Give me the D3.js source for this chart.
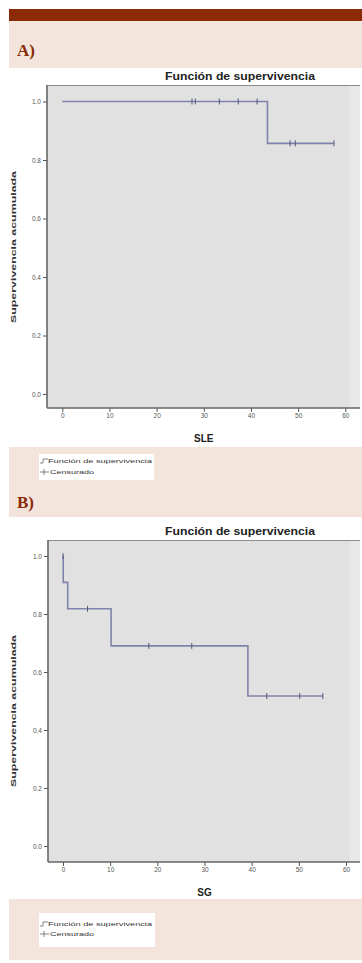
<!DOCTYPE html>
<html>
<head>
<meta charset="utf-8">
<script src="https://cdn.jsdelivr.net/npm/d3@7"></script>
<style>
  html, body { margin: 0; padding: 0; background: #fff; }
  svg { display: block; }
</style>
</head>
<body>
<svg id="fig" width="362" height="963"></svg>
<script>
// Kaplan–Meier step data (time in months, cumulative survival)
const sleStepTimes    = [0, 43.5, 57.6];
const sleStepSurvival = [1.0, 0.857, 0.857];
const sleCensorTimes    = [27.5, 28.2, 33.3, 37.3, 41.3, 48.3, 49.4, 57.6];
const sleCensorSurvival = [1.0, 1.0, 1.0, 1.0, 1.0, 0.857, 0.857, 0.857];

const sgStepTimes    = [0, 0.05, 1.0, 10.2, 39.2, 55.1];
const sgStepSurvival = [1.0, 0.909, 0.818, 0.69, 0.517, 0.517];
const sgCensorTimes    = [0, 5.2, 18.2, 27.3, 43.2, 50.2, 55.1];
const sgCensorSurvival = [1.0, 0.818, 0.69, 0.69, 0.517, 0.517, 0.517];

const xTicks = [0, 10, 20, 30, 40, 50, 60];
const yTicks = [0.0, 0.2, 0.4, 0.6, 0.8, 1.0];

const chartTitle = "Función de supervivencia";
const yLabel = "Supervivencia acumulada";
const legendItems = ["Función de supervivencia", "Censurado"];

const svg = d3.select("#fig");
const DARK_RED = "#8a2a06";
const PINK = "#f3e4dc";
const LINE = "#8084aa";
const MARK = "#55597a";
const SANS = "Liberation Sans, Arial, sans-serif";

// header strip
svg.append("rect").attr("x", 9).attr("y", 9).attr("width", 353).attr("height", 12).attr("fill", DARK_RED);

function band(y, h) {
  svg.append("rect").attr("x", 9).attr("y", y).attr("width", 353).attr("height", h).attr("fill", PINK);
}
function panelLabel(txt, y) {
  svg.append("text").attr("x", 17).attr("y", y).text(txt)
    .attr("font-family", "Liberation Serif, serif").attr("font-weight", "bold")
    .attr("font-size", 17).attr("fill", DARK_RED);
}
band(21, 47);
panelLabel("A)", 56);
band(447, 70);
panelLabel("B)", 508);
band(899, 61);

function legend(x, y, w, h, rows) {
  const g = svg.append("g").attr("transform", `translate(${x},${y})`);
  g.append("rect").attr("width", w).attr("height", h).attr("fill", "#fff");
  legendItems.forEach((t, i) => {
    const cy = rows[i];
    if (i === 0) {
      g.append("path").attr("d", `M1,${cy + 2} L4,${cy + 2} L4,${cy - 2} L9,${cy - 2}`)
        .attr("fill", "none").attr("stroke", "#555").attr("stroke-width", 0.7);
    } else {
      g.append("path").attr("d", `M1,${cy} L10,${cy} M5,${cy - 3} L5,${cy + 3}`)
        .attr("fill", "none").attr("stroke", "#555").attr("stroke-width", 0.7);
    }
    g.append("text").attr("x", i === 0 ? 9 : 11).attr("y", cy + 2).text(t)
      .attr("font-family", SANS).attr("font-size", 5.8).attr("fill", "#333")
      .attr("textLength", i === 0 ? 104 : 44).attr("lengthAdjust", "spacingAndGlyphs");
  });
}
legend(39, 454, 115, 26, [7, 18]);
legend(39, 913, 116, 34, [11, 21]);

function kmChart(opt) {
  const x = d3.scaleLinear().domain([0, 60]).range(opt.xr);
  const y = d3.scaleLinear().domain([0, 1]).range(opt.yr);
  const g = svg.append("g");
  const left = opt.left, right = 360, top = opt.top, bottom = opt.bottom;

  // plotting area
  g.append("rect").attr("x", left).attr("y", top).attr("width", right - left).attr("height", bottom - top)
    .attr("fill", "#e1e1e1");
  g.append("rect").attr("x", 350).attr("y", top).attr("width", right - 350).attr("height", bottom - top)
    .attr("fill", "#e8e8e8");
  g.append("line").attr("x1", left).attr("x2", right).attr("y1", top + 0.5).attr("y2", top + 0.5)
    .attr("stroke", "#8c8c8c").attr("stroke-width", 1.2);

  // axes
  const yAxis = d3.axisLeft(y).tickValues(yTicks).tickFormat(d3.format(".1f")).tickSize(4).tickPadding(2);
  const ya = g.append("g").attr("transform", `translate(${left},0)`).call(yAxis);
  ya.select(".domain").remove();
  ya.selectAll("line").attr("stroke", "#555");
  ya.selectAll("text").attr("font-family", SANS).attr("font-size", 6.5).attr("fill", "#555");

  const xAxis = d3.axisBottom(x).tickValues(xTicks).tickSize(-4).tickPadding(5);
  const xa = g.append("g").attr("transform", `translate(0,${bottom})`).call(xAxis);
  xa.select(".domain").remove();
  xa.selectAll("line").attr("stroke", "#555").attr("transform", "translate(0,4)");
  xa.selectAll("text").attr("font-family", SANS).attr("font-size", 6.5).attr("fill", "#555");

  g.append("line").attr("x1", left).attr("x2", left).attr("y1", top).attr("y2", bottom)
    .attr("stroke", "#666").attr("stroke-width", 1.6);
  g.append("line").attr("x1", left).attr("x2", right).attr("y1", bottom).attr("y2", bottom)
    .attr("stroke", "#666").attr("stroke-width", 1.6);

  // survival curve
  const pts = opt.t.map((t, i) => [t, opt.s[i]]);
  const line = d3.line().x(d => x(d[0])).y(d => y(d[1])).curve(d3.curveStepAfter);
  g.append("path").datum(pts).attr("d", line).attr("fill", "none")
    .attr("stroke", LINE).attr("stroke-width", 1.6);

  // censored observations
  g.selectAll(null).data(opt.ct.map((t, i) => [t, opt.cs[i]])).enter().append("line")
    .attr("x1", d => x(d[0])).attr("x2", d => x(d[0]))
    .attr("y1", d => y(d[1]) - 3).attr("y2", d => y(d[1]) + 3)
    .attr("stroke", MARK).attr("stroke-width", 1);

  // titles
  g.append("text").attr("x", 240).attr("y", top - 5).attr("text-anchor", "middle")
    .text(chartTitle).attr("font-family", SANS).attr("font-weight", "bold")
    .attr("font-size", 10.5).attr("fill", "#222")
    .attr("textLength", 150).attr("lengthAdjust", "spacingAndGlyphs");
  g.append("text").attr("x", x(30)).attr("y", bottom + 34).attr("text-anchor", "middle")
    .text(opt.xLabel).attr("font-family", SANS).attr("font-weight", "bold")
    .attr("font-size", 10).attr("fill", "#222");
  g.append("text").attr("transform", `translate(15.5,${opt.yLabelY}) rotate(-90)`).attr("text-anchor", "middle")
    .text(yLabel).attr("font-family", SANS).attr("font-weight", "bold")
    .attr("font-size", 7.6).attr("fill", "#333")
    .attr("textLength", 152).attr("lengthAdjust", "spacingAndGlyphs");
}

kmChart({
  xr: [62.3, 345.3], yr: [394, 101.5], left: 47, top: 85, bottom: 408, yLabelY: 247,
  t: sleStepTimes, s: sleStepSurvival, ct: sleCensorTimes, cs: sleCensorSurvival, xLabel: "SLE"
});
kmChart({
  xr: [63, 346], yr: [846, 556], left: 48, top: 540, bottom: 862, yLabelY: 711,
  t: sgStepTimes, s: sgStepSurvival, ct: sgCensorTimes, cs: sgCensorSurvival, xLabel: "SG"
});
</script>
</body>
</html>
